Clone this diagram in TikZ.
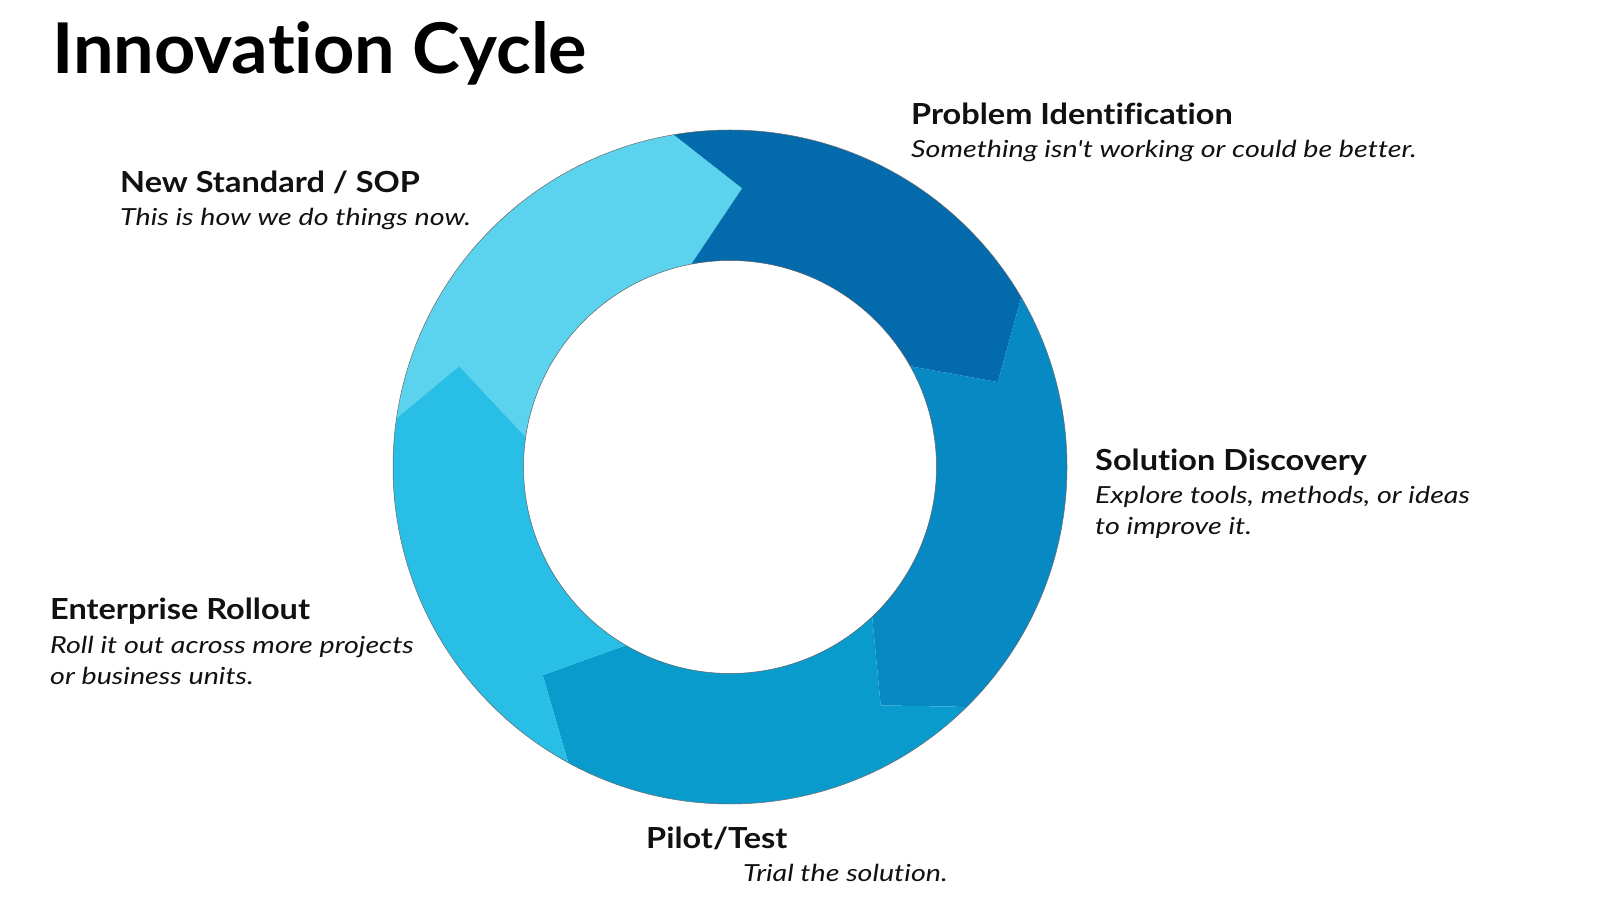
\documentclass[tikz,border=0pt]{standalone}
\usepackage{fontspec}
\setmainfont{Lato}[Ligatures=NoCommon]
\newfontfamily\headfont{Lato}[FakeStretch=1.12,Ligatures=NoCommon]
\newfontfamily\descfont{Lato}[FakeStretch=1.22,Ligatures=NoCommon]
\newfontfamily\titlefont{Lato}[FakeStretch=1.03,Ligatures=NoCommon]
\definecolor{cLight}{HTML}{5BD3EE}
\definecolor{cEnt}{HTML}{29BEE6}
\definecolor{cPilot}{HTML}{0A9BCD}
\definecolor{cSol}{HTML}{0789C4}
\definecolor{cDark}{HTML}{036AAC}
\definecolor{ink}{HTML}{111111}
\tikzset{
  head/.style={anchor=base west, inner sep=0pt, font=\headfont\fontsize{29}{34}\selectfont\bfseries, text=ink},
  desc/.style={anchor=base west, inner sep=0pt, font=\descfont\fontsize{23.5}{30}\selectfont\itshape, text=ink},
  titletext/.style={anchor=base west, inner sep=0pt, font=\titlefont\fontsize{70}{80}\selectfont\bfseries, text=black},
  ringedge/.style={draw=black!60, line width=0.5pt}
}
% #1 colour, #2 start outer, #3 start tip, #4 start tip radius, #5 start inner,
% #6 end outer, #7 end tip, #8 end tip radius, #9 end inner
\newcommand{\ringseg}[9]{%
  \fill[#1] (#2:337) arc[start angle=#2, end angle=#6, radius=337]
    -- (#7:#8) -- (#9:206.5) arc[start angle=#9, end angle=#5, radius=206.5]
    -- (#3:#4) -- cycle;}
\begin{document}
\begin{tikzpicture}[x=1pt,y=1pt]
\fill[white] (0,0) rectangle (1600,900);
\useasboundingbox (0,0) rectangle (1600,900);
\begin{scope}[shift={(730,433)}]
  % New Standard / SOP (light)
  \ringseg{cLight}{171.7}{159.6}{289}{171.7}{99.6}{87.5}{279}{100.8}
  % Problem Identification (dark)
  \ringseg{cDark}{99.6}{87.5}{279}{100.8}{30.2}{17.6}{281}{29.2}
  % Solution Discovery
  \ringseg{cSol}{30.2}{17.6}{281}{29.2}{-45.4}{-57.7}{282}{-46.5}
  % Pilot/Test
  \ringseg{cPilot}{-45.4}{-57.7}{282}{-46.5}{-118.7}{-132}{280}{-120.3}
  % Enterprise Rollout
  \ringseg{cEnt}{-118.7}{-132}{280}{-120.3}{-188.3}{-200.4}{289}{-188.3}
  \draw[ringedge] (0,0) circle[radius=337];
  \draw[ringedge] (0,0) circle[radius=206.5];
\end{scope}
\node[titletext] (title) at (52,826) {Innovation Cycle};
\node[head] (pih) at (911,775) {Problem Identification};
\node[desc] (pid) at (911,742) {Something isn't working or could be better.};
\node[head] (nsh) at (120,707) {New Standard / SOP};
\node[desc] (nsd) at (120,674) {This is how we do things now.};
\node[head] (sdh) at (1095,429) {Solution Discovery};
\node[desc] (sdd1) at (1095,396) {Explore tools, methods, or ideas};
\node[desc] (sdd2) at (1095,365) {to improve it.};
\node[head] (erh) at (50,280) {Enterprise Rollout};
\node[desc] (erd1) at (50,247) {Roll it out across more projects};
\node[desc] (erd2) at (50,216) {or business units.};
\node[head] (pth) at (646,52) {Pilot/Test};
\node[desc] (ptd) at (743,19) {Trial the solution.};
\end{tikzpicture}
\end{document}
